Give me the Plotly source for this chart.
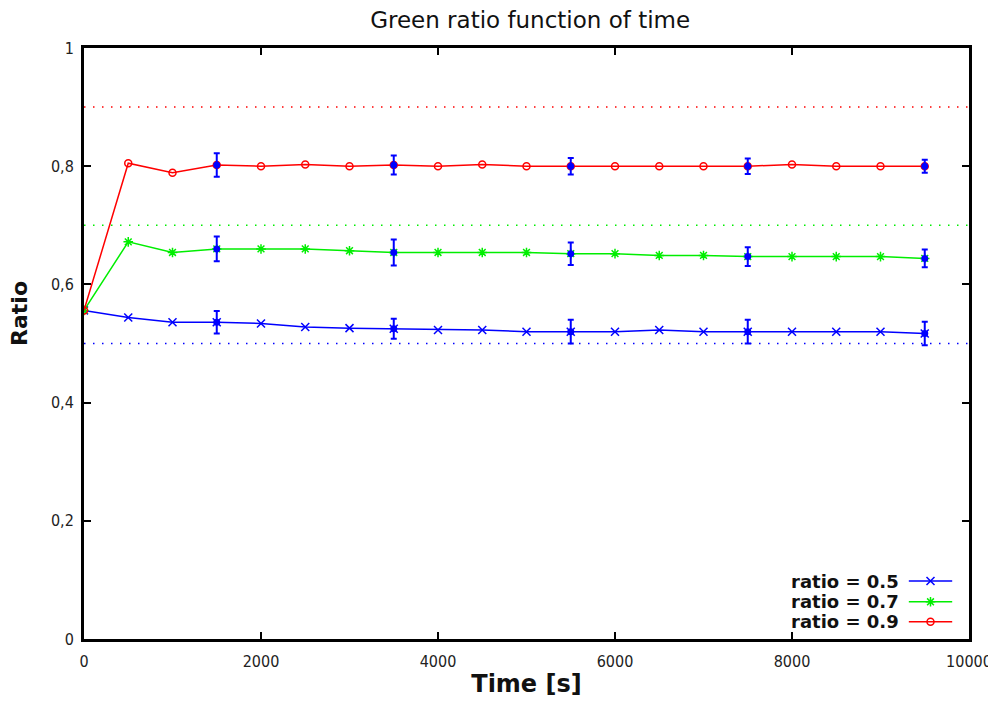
import plotly.graph_objects as go

# ---- data ----
time_s = [0, 500, 1000, 1500, 2000, 2500, 3000, 3500, 4000, 4500,
          5000, 5500, 6000, 6500, 7000, 7500, 8000, 8500, 9000, 9500]
ratio_05 = [0.556, 0.544, 0.536, 0.536, 0.534, 0.528, 0.526, 0.525, 0.523, 0.523,
            0.520, 0.520, 0.520, 0.523, 0.520, 0.520, 0.520, 0.520, 0.520, 0.517]
ratio_07 = [0.556, 0.672, 0.654, 0.660, 0.660, 0.660, 0.657, 0.654, 0.654, 0.654,
            0.654, 0.652, 0.652, 0.649, 0.649, 0.647, 0.647, 0.647, 0.647, 0.644]
ratio_09 = [0.556, 0.805, 0.789, 0.802, 0.800, 0.803, 0.800, 0.802, 0.800, 0.803,
            0.800, 0.800, 0.800, 0.800, 0.800, 0.800, 0.803, 0.800, 0.800, 0.800]
err_idx = [3, 7, 11, 15, 19]
err_05 = [0.019, 0.017, 0.020, 0.020, 0.020]
err_07 = [0.021, 0.022, 0.019, 0.016, 0.015]
err_09 = [0.020, 0.016, 0.014, 0.013, 0.011]
targets = [0.5, 0.7, 0.9]
labels = ["ratio = 0.5", "ratio = 0.7", "ratio = 0.9"]
x_range = [0, 10000]
y_ticks = [0, 0.2, 0.4, 0.6, 0.8, 1]
y_ticktext = ["0", "0,2", "0,4", "0,6", "0,8", "1"]
x_ticks = [0, 2000, 4000, 6000, 8000, 10000]
x_ticktext = ["0", "2000", "4000", "6000", "8000", "10000"]

colors = ["#0000ff", "#00ee00", "#ff0000"]
symbols = ["x-thin-open", "asterisk-open", "circle-open"]
sizes = [8, 8, 7]
series = [ratio_05, ratio_07, ratio_09]
errs = [err_05, err_07, err_09]

fig = go.Figure()

# target dotted lines
for t, c in zip(targets, colors):
    fig.add_trace(go.Scatter(x=x_range, y=[t, t], mode="lines",
                             line=dict(color=c, width=1.5, dash="1.5px,7.5px"),
                             showlegend=False, hoverinfo="skip"))

# series
for ys, c, s, sz in zip(series, colors, symbols, sizes):
    fig.add_trace(go.Scatter(x=time_s, y=ys, mode="lines+markers",
                             line=dict(color=c, width=1.5),
                             marker=dict(symbol=s, size=sz, color=c,
                                         line=dict(color=c, width=1.5)),
                             showlegend=False))

# error bars (blue)
for ys, e in zip(series, errs):
    fig.add_trace(go.Scatter(x=[time_s[i] for i in err_idx],
                             y=[ys[i] for i in err_idx],
                             mode="markers",
                             marker=dict(symbol="circle", size=7, color="#0000ff"),
                             error_y=dict(type="data", array=e, visible=True,
                                          color="#0000ff", thickness=2, width=3),
                             showlegend=False))

# custom legend (text left, sample right) on an overlay axis
leg_rows = [0.098, 0.063, 0.029]
for lab, c, s, sz, yr in zip(labels, colors, symbols, sizes, leg_rows):
    fig.add_trace(go.Scatter(x=[0.932, 0.981], y=[yr, yr], xaxis="x2", yaxis="y2",
                             mode="lines", line=dict(color=c, width=1.5),
                             showlegend=False, hoverinfo="skip"))
    fig.add_trace(go.Scatter(x=[0.9565], y=[yr], xaxis="x2", yaxis="y2",
                             mode="markers",
                             marker=dict(symbol=s, size=sz, color=c,
                                         line=dict(color=c, width=1.5)),
                             showlegend=False, hoverinfo="skip"))
    fig.add_annotation(x=0.923, y=yr, xref="x2", yref="y2", text=lab,
                       showarrow=False, xanchor="right", yanchor="middle",
                       font=dict(family="DejaVu Sans", size=18, color="#111111",
                                 weight="bold"))

# y axis title (placed slightly above centre, as in the original)
fig.add_annotation(x=-0.0723, y=0.55, xref="paper", yref="paper", text="Ratio",
                   showarrow=False, textangle=-90, xanchor="center", yanchor="middle",
                   font=dict(family="DejaVu Sans", size=22, color="#111111",
                             weight="bold"))

axis_common = dict(showline=True, linecolor="black", linewidth=3, mirror="allticks",
                   ticks="inside", ticklen=7, tickwidth=2, tickcolor="black",
                   showgrid=False, zeroline=False, automargin=False,
                   ticklabeloverflow="allow",
                   tickfont=dict(family="DejaVu Sans Condensed, DejaVu Sans", size=16,
                                 color="#222222"))

fig.update_layout(
    width=988, height=690,
    margin=dict(l=76, r=27, t=40, b=59),
    paper_bgcolor="white", plot_bgcolor="white",
    title=dict(text="Green ratio function of time", x=0.5285, xanchor="center",
               y=0.982, yanchor="middle",
               font=dict(family="DejaVu Sans", size=23, color="#111111")),
    xaxis=dict(range=x_range, tickvals=x_ticks, ticktext=x_ticktext,
               ticklabelstandoff=6,
               title=dict(text="Time [s]", standoff=8,
                          font=dict(family="DejaVu Sans", size=24, color="#111111",
                                    weight="bold")),
               **axis_common),
    yaxis=dict(range=[0, 1], tickvals=y_ticks, ticktext=y_ticktext,
               ticklabelstandoff=4,
               **axis_common),
    xaxis2=dict(range=[0, 1], overlaying="x", visible=False, fixedrange=True),
    yaxis2=dict(range=[0, 1], overlaying="y", visible=False, fixedrange=True),
    showlegend=False,
)

fig.write_html("out.html")
